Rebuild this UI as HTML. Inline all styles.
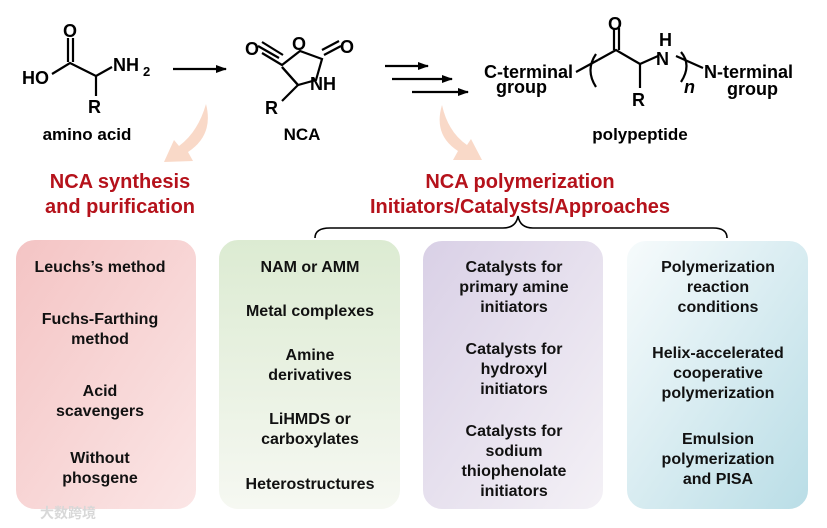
<!DOCTYPE html>
<html><head><meta charset="utf-8"><style>
html,body{margin:0;padding:0;background:#fff;}
svg{display:block;font-family:"Liberation Sans",Arial,sans-serif;font-weight:bold;}
</style></head><body>
<svg width="827" height="528" viewBox="0 0 827 528" xmlns="http://www.w3.org/2000/svg">
<defs>
<linearGradient id="gp" x1="0" y1="0" x2="1" y2="1"><stop offset="0" stop-color="#f4c4c4"/><stop offset="1" stop-color="#fbe6e6"/></linearGradient>
<linearGradient id="gg" x1="0" y1="0" x2="0" y2="1"><stop offset="0" stop-color="#dcebd2"/><stop offset="1" stop-color="#f6f8f2"/></linearGradient>
<linearGradient id="gv" x1="0" y1="0" x2="1" y2="1"><stop offset="0" stop-color="#d9d0e6"/><stop offset="1" stop-color="#f4f1f6"/></linearGradient>
<linearGradient id="gb" x1="0" y1="0" x2="1" y2="1"><stop offset="0" stop-color="#f7fbfc"/><stop offset="1" stop-color="#b9dde6"/></linearGradient>
<marker id="ah" markerWidth="11" markerHeight="8" refX="10" refY="4" orient="auto" markerUnits="userSpaceOnUse"><path d="M0,0 L11,4 L0,8 z" fill="#000"/></marker>
</defs>
<g stroke="#000" stroke-width="2.2" fill="none">
<path d="M52,74 L70,63 L96,76 L112,67"/><path d="M68,62 V38 M73,62 V38"/><path d="M96,76 V96"/>
<path d="M173,69 H226" marker-end="url(#ah)"/>
<path d="M262,53 L282,65 L300,51 L322,59 L316,80 L298,85 L282,67"/>
<path d="M258,46 L279,58 M262,42 L283,55" />
<path d="M324,55 L341,46 M322,50 L339,41"/>
<path d="M282,67 L298,85 L282,101"/>
<path d="M385,66 H428" marker-end="url(#ah)"/><path d="M392,79 H452" marker-end="url(#ah)"/><path d="M412,92 H468" marker-end="url(#ah)"/>
<path d="M576,72 L598,60"/>
<path d="M596,54 Q585,70 596,87"/>
<path d="M598,60 L616,50 L640,64 L658,56"/><path d="M614,50 V28 M619,50 V28"/><path d="M640,64 V88"/>
<path d="M681,52 Q692,65 681,82"/><path d="M676,56 L703,68"/>
<path d="M315,238 Q315,228 330,228 H503 Q516,228 518,216 Q520,228 533,228 H713 Q727,228 727,238" stroke-width="1.6"/>
</g>
<g font-size="18" fill="#000">
<text x="22" y="84">HO</text><text x="63" y="37">O</text><text x="113" y="71">NH</text><text x="143" y="76" font-size="13">2</text>
<text x="88" y="113">R</text>
<text x="245" y="55">O</text><text x="292" y="50">O</text><text x="340" y="53">O</text>
<text x="310" y="90">NH</text><text x="265" y="114">R</text>
<text x="484" y="78">C-terminal</text><text x="496" y="93">group</text>
<text x="608" y="30">O</text><text x="659" y="46">H</text><text x="656" y="65">N</text>
<text x="632" y="106">R</text><text x="684" y="93" font-style="italic">n</text>
<text x="704" y="78">N-terminal</text><text x="727" y="95">group</text>
</g>
<g font-size="17" fill="#000" text-anchor="middle">
<text x="87" y="140">amino acid</text><text x="302" y="140">NCA</text><text x="640" y="140">polypeptide</text>
</g>
<path d="M206,104 Q214,135 188,152 L193,161 L164,162 L174,140 L179,146 Q198,132 206,104z" fill="#f9d9c8"/>
<path d="M442,105 Q433,135 458,151 L453,160 L482,160 L471,139 L467,145 Q448,132 442,105z" fill="#f9d9c8"/>
<g font-size="20" fill="#b5121b" text-anchor="middle">
<text x="120" y="188">NCA synthesis</text><text x="120" y="213">and purification</text>
<text x="520" y="188">NCA polymerization</text><text x="520" y="213">Initiators/Catalysts/Approaches</text>
</g>
<g stroke="#fff" stroke-width="2">
<rect x="15" y="239" width="182" height="271" rx="20" fill="url(#gp)"/>
<rect x="218" y="239" width="183" height="271" rx="20" fill="url(#gg)"/>
<rect x="422" y="240" width="182" height="270" rx="20" fill="url(#gv)"/>
<rect x="626" y="240" width="183" height="270" rx="20" fill="url(#gb)"/>
</g>
<g font-size="16" fill="#111" text-anchor="middle">
<text x="100" y="272">Leuchs’s method</text>
<text x="100" y="324">Fuchs-Farthing</text><text x="100" y="344">method</text>
<text x="100" y="396">Acid</text><text x="100" y="416">scavengers</text>
<text x="100" y="463">Without</text><text x="100" y="483">phosgene</text>
<text x="310" y="272">NAM or AMM</text>
<text x="310" y="316">Metal complexes</text>
<text x="310" y="360">Amine</text><text x="310" y="380">derivatives</text>
<text x="310" y="424">LiHMDS or</text><text x="310" y="444">carboxylates</text>
<text x="310" y="489">Heterostructures</text>
<text x="514" y="272">Catalysts for</text><text x="514" y="292">primary amine</text><text x="514" y="312">initiators</text>
<text x="514" y="354">Catalysts for</text><text x="514" y="374">hydroxyl</text><text x="514" y="394">initiators</text>
<text x="514" y="436">Catalysts for</text><text x="514" y="456">sodium</text><text x="514" y="476">thiophenolate</text><text x="514" y="496">initiators</text>
<text x="718" y="272">Polymerization</text><text x="718" y="292">reaction</text><text x="718" y="312">conditions</text>
<text x="718" y="358">Helix-accelerated</text><text x="718" y="378">cooperative</text><text x="718" y="398">polymerization</text>
<text x="718" y="444">Emulsion</text><text x="718" y="464">polymerization</text><text x="718" y="484">and PISA</text>
</g>
<text x="40" y="518" font-size="14" fill="#d8d8d8" font-family="'Noto Sans CJK SC',sans-serif">大数跨境</text>
</svg>
</body></html>
